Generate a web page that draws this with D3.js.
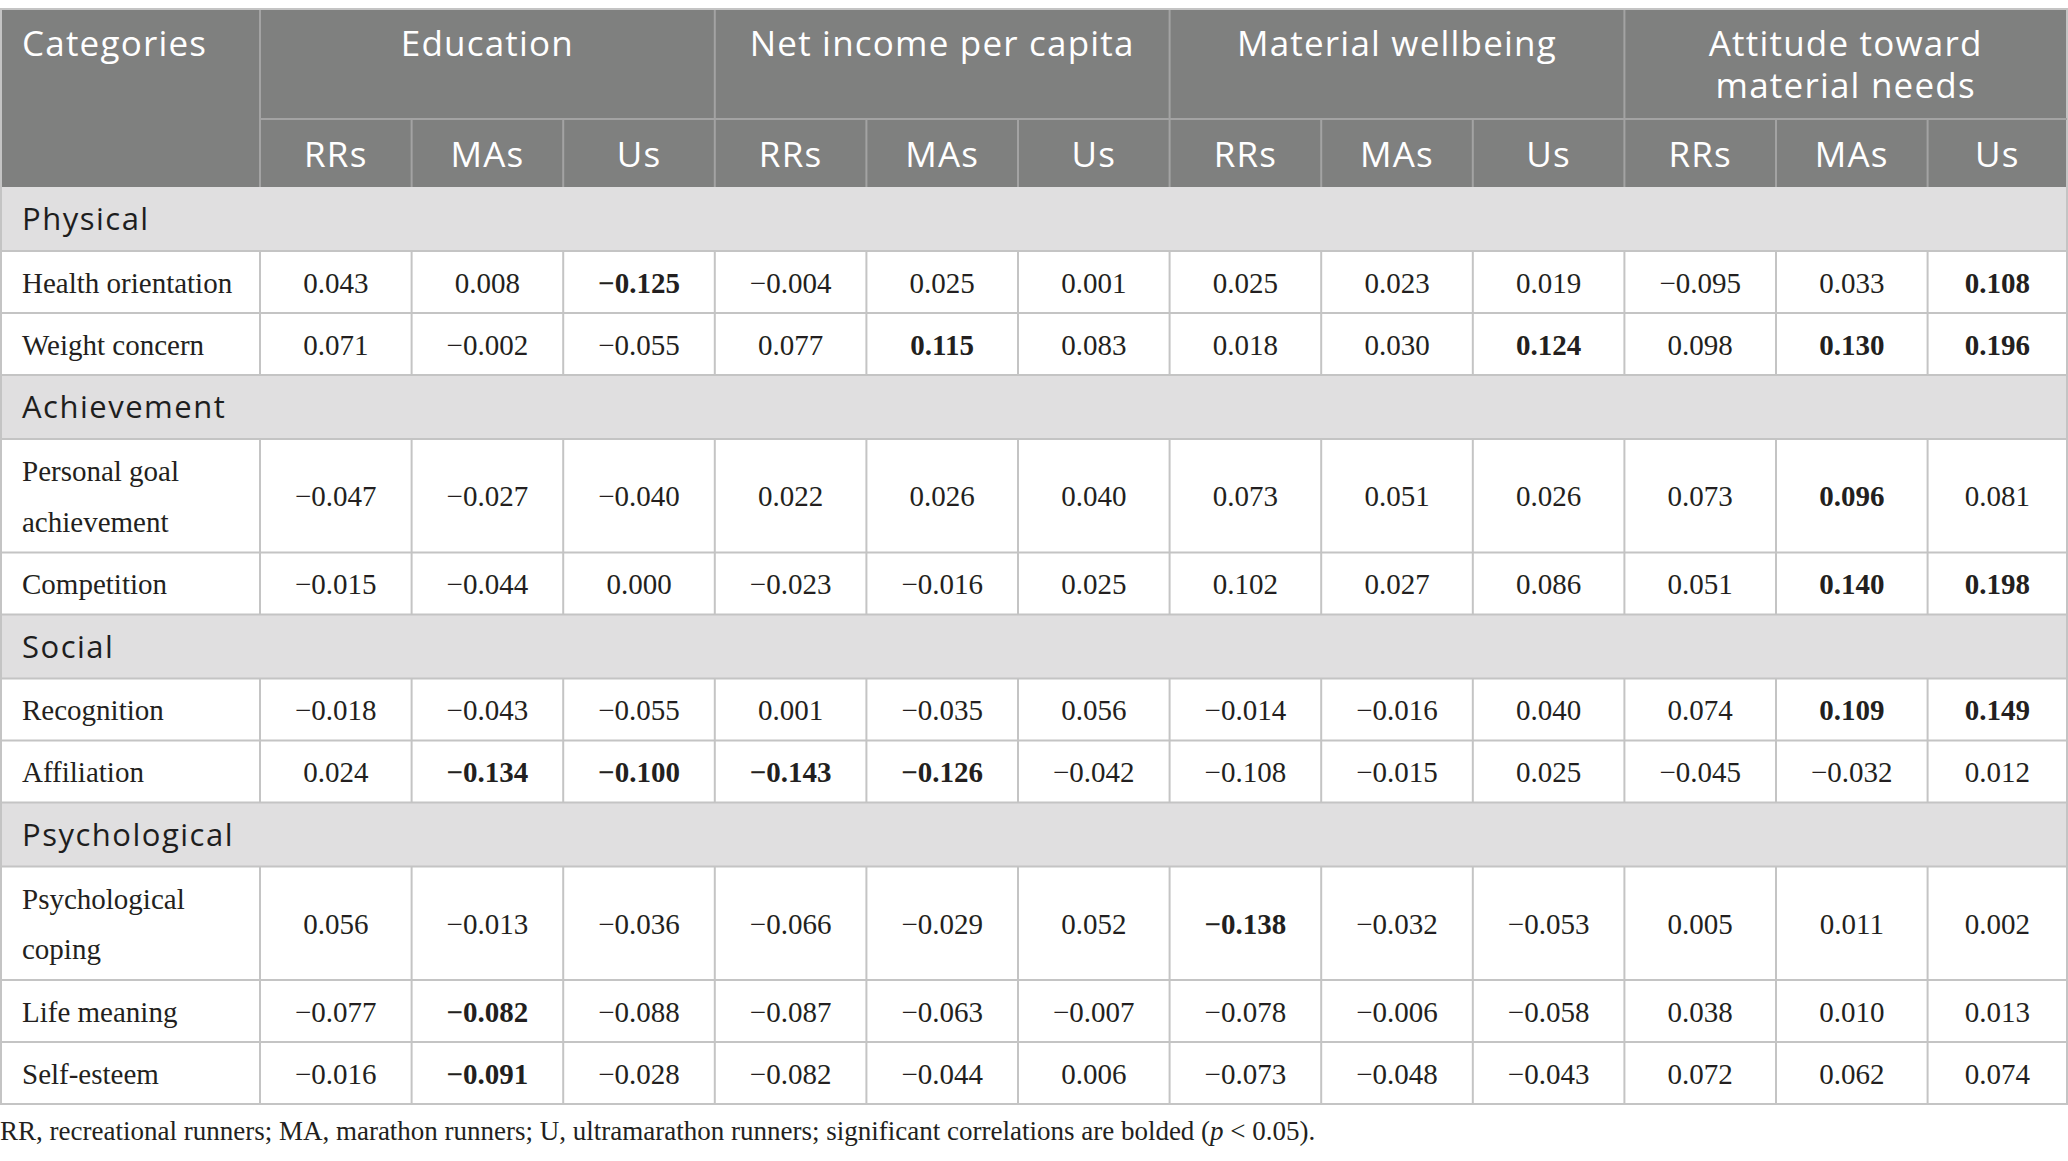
<!DOCTYPE html>
<html>
<head>
<meta charset="utf-8">
<script src="https://cdn.jsdelivr.net/npm/d3@7"></script>
<style>
  body { margin: 0; background: #fff; }
  svg { display: block; }
</style>
</head>
<body>
<div id="chart"></div>
<script>
// table content
const groups = ["Education", "Net income per capita", "Material wellbeing", "Attitude toward\nmaterial needs"];
const runners = ["RRs", "MAs", "Us"];
const categories = ["Physical", "Achievement", "Social", "Psychological"];
const items = ["Health orientation", "Weight concern", "Personal goal\nachievement", "Competition",
  "Recognition", "Affiliation", "Psychological\ncoping", "Life meaning", "Self-esteem"];
const itemCategory = [0, 0, 1, 1, 2, 2, 3, 3, 3];

// correlations, columns: Education RR MA U | Net income RR MA U | Material RR MA U | Attitude RR MA U
const values = [
  [0.043, 0.008, -0.125, -0.004, 0.025, 0.001, 0.025, 0.023, 0.019, -0.095, 0.033, 0.108],
  [0.071, -0.002, -0.055, 0.077, 0.115, 0.083, 0.018, 0.030, 0.124, 0.098, 0.130, 0.196],
  [-0.047, -0.027, -0.040, 0.022, 0.026, 0.040, 0.073, 0.051, 0.026, 0.073, 0.096, 0.081],
  [-0.015, -0.044, 0.000, -0.023, -0.016, 0.025, 0.102, 0.027, 0.086, 0.051, 0.140, 0.198],
  [-0.018, -0.043, -0.055, 0.001, -0.035, 0.056, -0.014, -0.016, 0.040, 0.074, 0.109, 0.149],
  [0.024, -0.134, -0.100, -0.143, -0.126, -0.042, -0.108, -0.015, 0.025, -0.045, -0.032, 0.012],
  [0.056, -0.013, -0.036, -0.066, -0.029, 0.052, -0.138, -0.032, -0.053, 0.005, 0.011, 0.002],
  [-0.077, -0.082, -0.088, -0.087, -0.063, -0.007, -0.078, -0.006, -0.058, 0.038, 0.010, 0.013],
  [-0.016, -0.091, -0.028, -0.082, -0.044, 0.006, -0.073, -0.048, -0.043, 0.072, 0.062, 0.074]
];
// significant (bolded) cells
const significant = [
  [0, 0, 1, 0, 0, 0, 0, 0, 0, 0, 0, 1],
  [0, 0, 0, 0, 1, 0, 0, 0, 1, 0, 1, 1],
  [0, 0, 0, 0, 0, 0, 0, 0, 0, 0, 1, 0],
  [0, 0, 0, 0, 0, 0, 0, 0, 0, 0, 1, 1],
  [0, 0, 0, 0, 0, 0, 0, 0, 0, 0, 1, 1],
  [0, 1, 1, 1, 1, 0, 0, 0, 0, 0, 0, 0],
  [0, 0, 0, 0, 0, 0, 1, 0, 0, 0, 0, 0],
  [0, 1, 0, 0, 0, 0, 0, 0, 0, 0, 0, 0],
  [0, 1, 0, 0, 0, 0, 0, 0, 0, 0, 0, 0]
];
const note = "RR, recreational runners; MA, marathon runners; U, ultramarathon runners; significant correlations are bolded (";

const width = 2068, height = 1161;
const tableTop = 9, head1 = 110, head2 = 68;
const firstCol = 260, tableRight = 2067, colW = 151.6;
const catH = 64, rowH = 62, rowH2 = 113.5;
const sans = "'Open Sans', 'Noto Sans', sans-serif";
const serif = "'Liberation Serif', 'Times New Roman', serif";
const lineCol = "#c4c4c4", headCol = "#7f807f", headLine = "#a3a3a3", catBg = "#e0dfe0";

const fmt = d3.format(".3f");

const svg = d3.select("#chart").append("svg")
  .attr("width", width)
  .attr("height", height);

svg.append("rect").attr("width", width).attr("height", height).attr("fill", "#fff");

// column scale (12 value columns)
const x = d3.scaleLinear().domain([0, 12]).range([firstCol, firstCol + 12 * colW]);
const colLeft = i => x(i);
const colRight = i => Math.min(x(i + 1), tableRight);
const colMid = i => (colLeft(i) + colRight(i)) / 2;

// body rows layout
let rows = [];
let yy = tableTop + head1 + head2;
categories.forEach((c, ci) => {
  rows.push({ type: "cat", label: c, y: yy, h: catH });
  yy += catH;
  items.forEach((it, ii) => {
    if (itemCategory[ii] !== ci) return;
    const h = it.includes("\n") ? rowH2 : rowH;
    rows.push({ type: "item", label: it, idx: ii, y: yy, h: h });
    yy += h;
  });
});
const tableBottom = yy;

// header background
svg.append("rect")
  .attr("x", 0).attr("y", tableTop)
  .attr("width", tableRight).attr("height", head1 + head2)
  .attr("fill", headCol);

// category band backgrounds
svg.selectAll("rect.cat")
  .data(rows.filter(r => r.type === "cat"))
  .join("rect")
  .attr("class", "cat")
  .attr("x", 0).attr("y", d => d.y)
  .attr("width", tableRight).attr("height", d => d.h)
  .attr("fill", catBg);

// body grid lines
const gl = svg.append("g").attr("stroke", lineCol).attr("stroke-width", 2);
rows.forEach(r => {
  gl.append("line")
    .attr("x1", 0).attr("x2", tableRight)
    .attr("y1", r.y + r.h).attr("y2", r.y + r.h);
  if (r.type === "item") {
    d3.range(0, 12).forEach(i => {
      gl.append("line")
        .attr("x1", colLeft(i)).attr("x2", colLeft(i))
        .attr("y1", r.y).attr("y2", r.y + r.h);
    });
  }
});
// outer border
svg.append("rect")
  .attr("x", 1).attr("y", tableTop)
  .attr("width", tableRight - 1).attr("height", tableBottom - tableTop)
  .attr("fill", "none")
  .attr("stroke", lineCol).attr("stroke-width", 2);

// header lines
const hl = svg.append("g").attr("stroke", headLine).attr("stroke-width", 2);
hl.append("line")
  .attr("x1", firstCol).attr("x2", tableRight)
  .attr("y1", tableTop + head1).attr("y2", tableTop + head1);
d3.range(0, 12).forEach(i => {
  hl.append("line")
    .attr("x1", colLeft(i)).attr("x2", colLeft(i))
    .attr("y1", i % 3 === 0 ? tableTop + 1 : tableTop + head1)
    .attr("y2", tableTop + head1 + head2);
});

// header text
svg.append("text")
  .attr("x", 22).attr("y", tableTop + 47)
  .attr("fill", "#fff")
  .attr("font-family", sans).attr("font-size", 35).attr("letter-spacing", 1.2)
  .text("Categories");

svg.selectAll("text.group")
  .data(groups)
  .join("text")
  .attr("class", "group")
  .attr("fill", "#fff")
  .attr("font-family", sans).attr("font-size", 35).attr("letter-spacing", 1.2)
  .attr("text-anchor", "middle")
  .each(function (d, i) {
    const cx = (colLeft(i * 3) + colRight(i * 3 + 2)) / 2;
    d3.select(this).selectAll("tspan")
      .data(d.split("\n"))
      .join("tspan")
      .attr("x", cx)
      .attr("y", (t, k) => tableTop + 47 + k * 42)
      .text(t => t);
  });

svg.selectAll("text.runner")
  .data(d3.range(12))
  .join("text")
  .attr("class", "runner")
  .attr("x", i => colMid(i))
  .attr("y", tableTop + head1 + 48)
  .attr("fill", "#fff")
  .attr("font-family", sans).attr("font-size", 35).attr("letter-spacing", 1.2)
  .attr("text-anchor", "middle")
  .text(i => runners[i % 3]);

// category labels
svg.selectAll("text.catlabel")
  .data(rows.filter(r => r.type === "cat"))
  .join("text")
  .attr("class", "catlabel")
  .attr("x", 22)
  .attr("y", d => d.y + d.h / 2 + 11)
  .attr("fill", "#1e1e1e")
  .attr("font-family", sans).attr("font-size", 31).attr("letter-spacing", 1.5)
  .text(d => d.label);

// item labels
svg.selectAll("text.item")
  .data(rows.filter(r => r.type === "item"))
  .join("text")
  .attr("class", "item")
  .attr("fill", "#231f20")
  .attr("font-family", serif).attr("font-size", 29)
  .each(function (d) {
    const lines = d.label.split("\n");
    d3.select(this).selectAll("tspan")
      .data(lines)
      .join("tspan")
      .attr("x", 22)
      .attr("y", (t, k) => d.y + d.h / 2 + 10.5 + (k - (lines.length - 1) / 2) * 50.5)
      .text(t => t);
  });

// value cells
const cells = rows.filter(r => r.type === "item")
  .flatMap(r => values[r.idx].map((v, i) => ({ r: r, i: i, v: v, b: significant[r.idx][i] })));

svg.selectAll("text.val")
  .data(cells)
  .join("text")
  .attr("class", "val")
  .attr("x", d => colMid(d.i))
  .attr("y", d => d.r.y + d.r.h / 2 + 10.5)
  .attr("text-anchor", "middle")
  .attr("fill", "#231f20")
  .attr("font-family", serif).attr("font-size", 29)
  .attr("font-weight", d => d.b ? "bold" : "normal")
  .text(d => fmt(d.v));

// footnote
const fn = svg.append("text")
  .attr("x", 0).attr("y", tableBottom + 36)
  .attr("fill", "#231f20")
  .attr("font-family", serif).attr("font-size", 27);
fn.append("tspan").text(note);
fn.append("tspan").attr("font-style", "italic").text("p");
fn.append("tspan").text(" < 0.05).");
</script>
</body>
</html>
